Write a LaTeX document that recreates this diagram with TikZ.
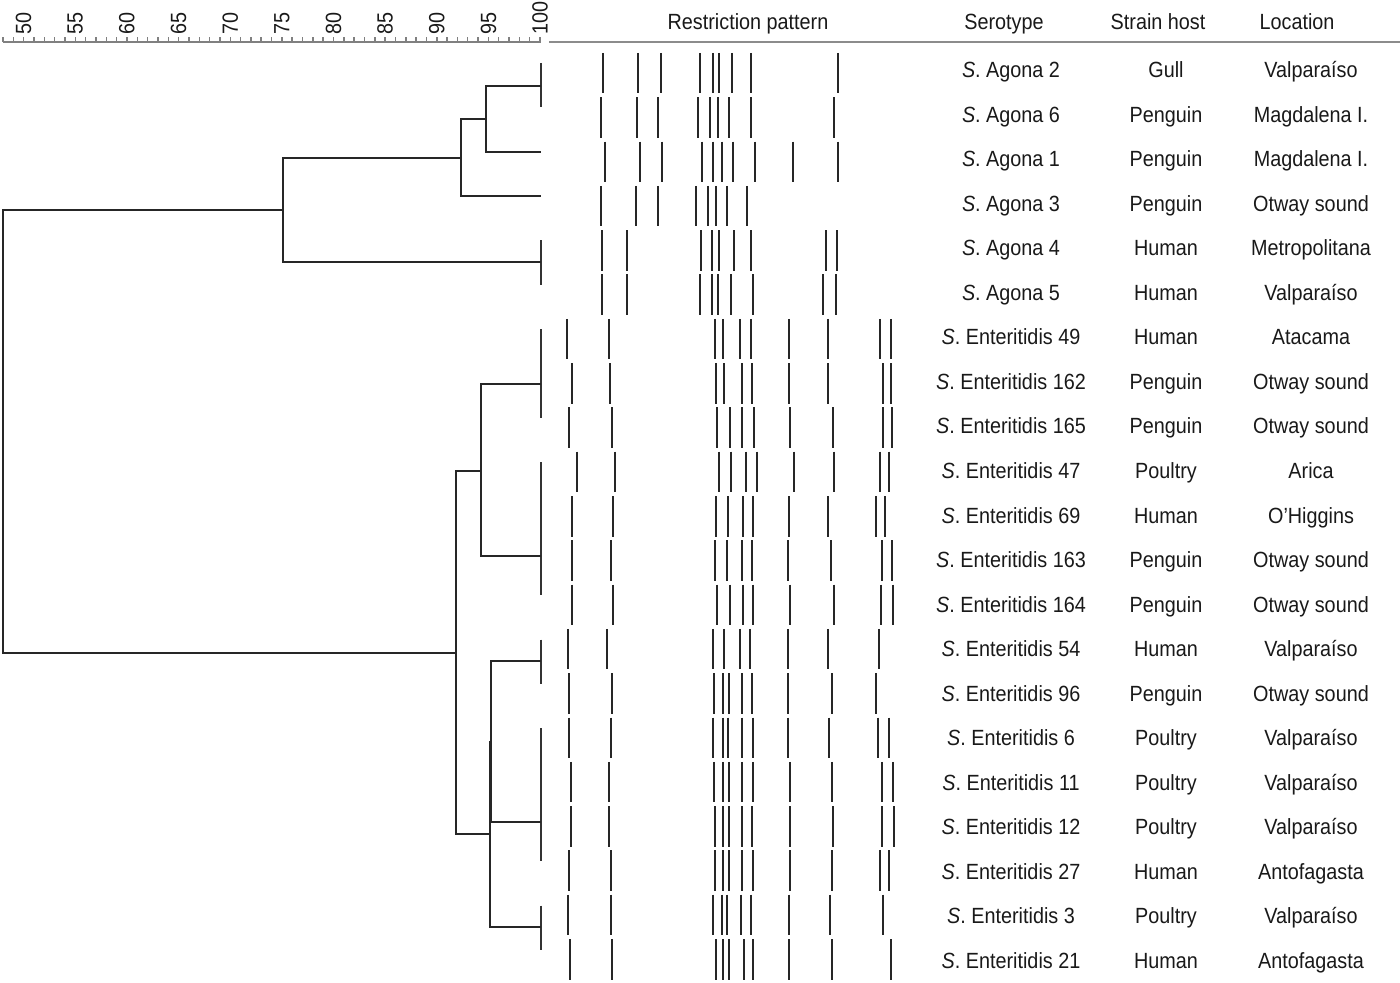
\documentclass[tikz,border=0pt]{standalone}
\usepackage{fontspec}
\setmainfont{Liberation Sans}[FakeStretch=0.9]
\begin{document}
\begin{tikzpicture}[x=0.5pt,y=-0.5pt,
  dend/.style={line width=1.15pt, draw=black!85},
  leafbar/.style={line width=0.9pt, draw=black!80},
  band/.style={line width=1pt, draw=black!85},
  axisline/.style={line width=0.7pt, draw=black!50},
  rulestyle/.style={line width=0.8pt, draw=black!45},
  lbl/.style={inner sep=0pt, font=\fontsize{11}{13}\selectfont, text=black!90},
]
\useasboundingbox (0,0) rectangle (1400,983);

% similarity scale
\draw[axisline] (3,42) coordinate (ax0) -- (541,42) coordinate (ax1);
\foreach \v in {48,...,100} \draw[axisline] ({23.6+(\v-50)*10.33},42) -- ++(0,-5);
\foreach \v in {50,55,...,100}
  \node[lbl, rotate=90, anchor=west] (t\v) at ({23.6+(\v-50)*10.33},35) {\v};

% headers
\node[lbl, anchor=base] (hrp) at (748,30) {Restriction pattern};
\node[lbl, anchor=base] (hser) at (1004,30) {Serotype};
\node[lbl, anchor=base] (hhost) at (1158,30) {Strain host};
\node[lbl, anchor=base] (hloc) at (1297,30) {Location};
\draw[rulestyle] (549,42) coordinate (r0) -- (1400,42) coordinate (r1);

% rows
\foreach \i/\sero/\host/\loc in {
  0/Agona 2/Gull/Valparaíso,
  1/Agona 6/Penguin/Magdalena I.,
  2/Agona 1/Penguin/Magdalena I.,
  3/Agona 3/Penguin/Otway sound,
  4/Agona 4/Human/Metropolitana,
  5/Agona 5/Human/Valparaíso,
  6/Enteritidis 49/Human/Atacama,
  7/Enteritidis 162/Penguin/Otway sound,
  8/Enteritidis 165/Penguin/Otway sound,
  9/Enteritidis 47/Poultry/Arica,
  10/Enteritidis 69/Human/O’Higgins,
  11/Enteritidis 163/Penguin/Otway sound,
  12/Enteritidis 164/Penguin/Otway sound,
  13/Enteritidis 54/Human/Valparaíso,
  14/Enteritidis 96/Penguin/Otway sound,
  15/Enteritidis 6/Poultry/Valparaíso,
  16/Enteritidis 11/Poultry/Valparaíso,
  17/Enteritidis 12/Poultry/Valparaíso,
  18/Enteritidis 27/Human/Antofagasta,
  19/Enteritidis 3/Poultry/Valparaíso,
  20/Enteritidis 21/Human/Antofagasta}{
  \node[lbl, anchor=base] (sero\i) at (1011,{77.5+44.55*\i}) {\textit{S}. \sero};
  \node[lbl, anchor=base] (host\i) at (1166,{77.5+44.55*\i}) {\host};
  \node[lbl, anchor=base] (loc\i) at (1311,{77.5+44.55*\i}) {\loc};
}

% restriction patterns
\foreach \r/\xs in {
  0/{603,638,661,700,713,719,732,751,838},
  1/{601,637,658,698,710,718,729,751,834},
  2/{605,640,662,702,713,722,733,755,793,838},
  3/{601,636,658,696,708,716,727,747},
  4/{602,627,701,712,719,734,751,826,837},
  5/{602,627,700,712,718,731,753,823,836},
  6/{567,609,715,723,740,751,789,828,880,891},
  7/{572,610,716,724,742,752,789,828,883,891},
  8/{569,612,717,730,742,754,790,833,883,892},
  9/{577,615,719,731,746,757,794,834,880,889},
  10/{572,613,716,728,743,753,789,828,876,885},
  11/{572,611,715,727,742,752,788,831,882,892},
  12/{572,613,717,730,743,753,790,834,881,893},
  13/{568,607,713,724,740,750,788,828,879},
  14/{569,612,714,723,729,742,752,788,832,876},
  15/{569,611,713,723,728,742,753,788,829,878,889},
  16/{571,609,714,723,729,742,753,790,832,882,893},
  17/{571,609,715,723,729,742,752,790,833,882,894},
  18/{569,611,715,723,729,742,753,790,832,880,889},
  19/{568,611,713,722,727,741,751,789,830,883},
  20/{570,612,716,723,729,744,753,789,832,891}}{
  \foreach \x in \xs { \draw[band] (\x,{53+44.3*\r}) -- ++(0,40.5); }
}

% dendrogram
\foreach \i in {0,...,20} \coordinate (l\i) at (541,{63+44.35*\i});
\coordinate (g01) at (541,86);
\coordinate (A1) at (486,119);
\coordinate (A2) at (461,158);
\coordinate (g45) at (541,262);
\coordinate (A3) at (283,210);
\coordinate (R) at (3,430);
\coordinate (g68) at (541,384);
\coordinate (g912) at (541,556);
\coordinate (E1) at (481,471);
\coordinate (g1314) at (541,661);
\coordinate (g1518) at (541,822);
\coordinate (E2) at (491,742);
\coordinate (g1920) at (541,927);
\coordinate (E3) at (490,834);
\coordinate (E4) at (456,653);

\draw[leafbar] (l0) -- (l1);
\draw[leafbar] (l4) -- (l5);
\draw[leafbar] (l6) -- (l8);
\draw[leafbar] (l9) -- (l12);
\draw[leafbar] (l13) -- (l14);
\draw[leafbar] (l15) -- (l18);
\draw[leafbar] (l19) -- (l20);

\draw[dend] (g01) -| (A1) |- (l2);
\draw[dend] (A1) -| (A2) |- (l3);
\draw[dend] (A2) -| (A3) |- (g45);
\draw[dend] (A3) -| (R) |- (E4);
\draw[dend] (g68) -| (E1) |- (g912);
\draw[dend] (g1314) -| (E2) |- (g1518);
\draw[dend] (E2) -| (E3) |- (g1920);
\draw[dend] (E1) -| (E4) |- (E3);
\end{tikzpicture}
\end{document}
